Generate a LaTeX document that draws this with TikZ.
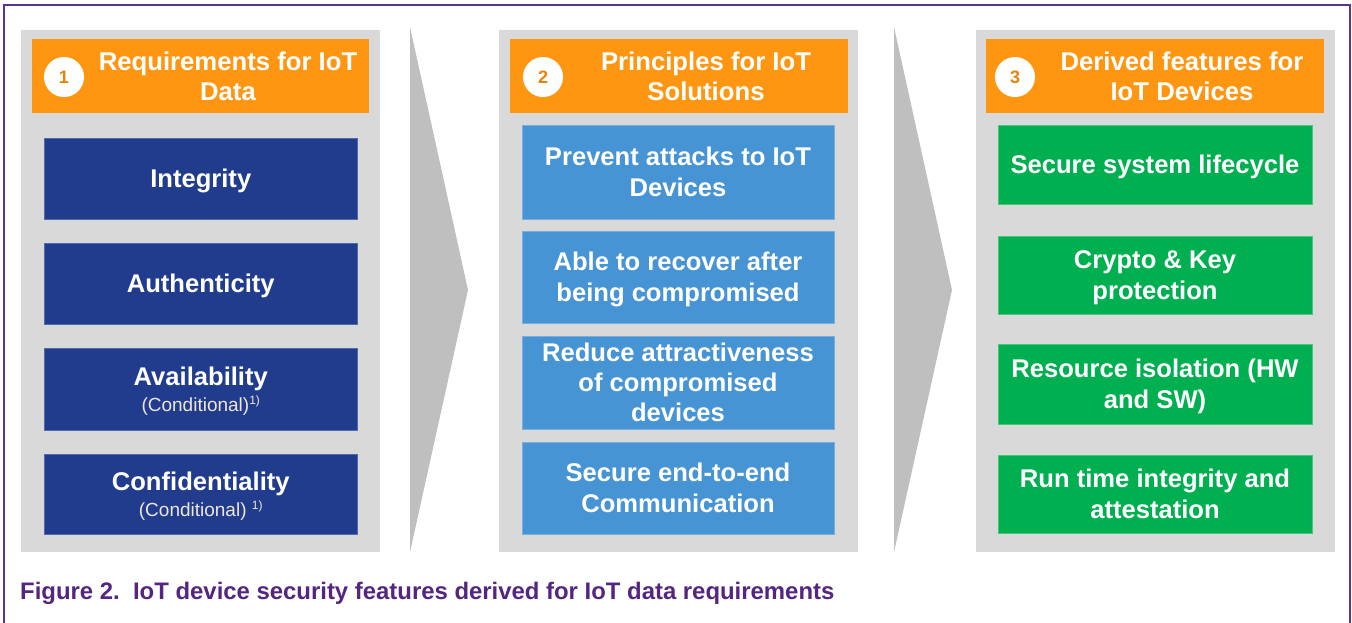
\documentclass[tikz,border=0pt]{standalone}
\usepackage{fontspec}
\setmainfont{Liberation Sans}
\definecolor{hdrorange}{RGB}{255,150,18}
\definecolor{numorange}{RGB}{232,130,10}
\definecolor{darkblue}{RGB}{33,60,140}
\definecolor{darkblueedge}{RGB}{80,105,175}
\definecolor{lightblue}{RGB}{71,148,212}
\definecolor{lightblueedge}{RGB}{120,175,225}
\definecolor{featgreen}{RGB}{0,175,80}
\definecolor{featgreenedge}{RGB}{70,200,120}
\definecolor{panelgray}{RGB}{217,217,217}
\definecolor{arrowgray}{RGB}{191,191,191}
\definecolor{framepurple}{RGB}{95,50,140}
\definecolor{captionpurple}{RGB}{84,38,128}
\definecolor{condtext}{RGB}{238,230,220}
\newcommand{\condline}[1]{{\mdseries\fontsize{19}{22}\selectfont\color{condtext}#1}}
\newcommand{\supone}{\raisebox{7pt}{\fontsize{12}{12}\selectfont 1)}}
\begin{document}
\begin{tikzpicture}[x={(1pt,0pt)}, y={(0pt,-1pt)},
  panel/.style={rectangle, inner sep=0pt, fill=panelgray, minimum width=359pt, minimum height=522pt},
  header/.style={rectangle, inner sep=0pt, fill=hdrorange, minimum width=338pt, minimum height=74pt},
  headtext/.style={inner sep=0pt, align=center, text=white, font=\bfseries\fontsize{25.7}{30}\selectfont},
  numcircle/.style={circle, fill=white, inner sep=0pt, minimum size=40pt, text=numorange, font=\bfseries\fontsize{18}{18}\selectfont},
  itembox/.style={rectangle, inner sep=0pt, align=center, text=white, text depth=0pt, line width=1pt, font=\bfseries\fontsize{25.6}{31}\selectfont},
  reqbox/.style={itembox, fill=darkblue, draw=darkblueedge, minimum width=313pt},
  prinbox/.style={itembox, fill=lightblue, draw=lightblueedge, minimum width=312pt},
  featbox/.style={itembox, fill=featgreen, draw=featgreenedge, minimum width=314pt},
  chevron/.style={fill=arrowgray, draw=none},
  frameline/.style={draw=framepurple, line width=2.5pt}
]
\useasboundingbox (0,0) rectangle (1352,622);
\fill[white] (0,0) rectangle (1352,622);
\draw[frameline] (4,640) -- (4,5) -- (1350,5) -- (1350,640);

% panels
\node[panel] (p1) at (200.5,291) {};
\node[panel] (p2) at (678.5,291) {};
\node[panel] (p3) at (1155.5,291) {};

% chevrons
\coordinate (c1a) at (410,27);
\coordinate (c1b) at (468,290);
\coordinate (c1c) at (410,552);
\fill[chevron] (c1a) -- (c1b) -- (c1c) -- cycle;
\coordinate (c2a) at (894,27);
\coordinate (c2b) at (952,290);
\coordinate (c2c) at (894,552);
\fill[chevron] (c2a) -- (c2b) -- (c2c) -- cycle;

% headers
\node[header, minimum width=337pt] (h1) at (200.5,76) {};
\node[header] (h2) at (679,76) {};
\node[header] (h3) at (1155,76) {};
\node[numcircle] (n1) at (64,77) {1};
\node[numcircle] (n2) at (543,77) {2};
\node[numcircle] (n3) at (1015,77) {3};
\node[headtext] (t1) at (228,76) {Requirements for IoT\\Data};
\node[headtext] (t2) at (706,76) {Principles for IoT\\Solutions};
\node[headtext] (t3) at (1182,76) {Derived features for\\IoT Devices};

% requirements
\node[reqbox, minimum height=81pt] (r1) at (200.75,178.5) {Integrity};
\node[reqbox, minimum height=81pt] (r2) at (200.75,283.5) {Authenticity};
\node[reqbox, minimum height=82pt] (r3) at (200.75,389) {Availability\\[-5pt]\condline{(Conditional)\supone}};
\node[reqbox, minimum height=80pt] (r4) at (200.75,494) {Confidentiality\\[-5pt]\condline{(Conditional) \supone}};

% principles
\node[prinbox, minimum height=94pt] (q1) at (678,172) {Prevent attacks to IoT\\Devices};
\node[prinbox, minimum height=92pt] (q2) at (678,277) {Able to recover after\\being compromised};
\node[prinbox, minimum height=93pt, font=\bfseries\fontsize{25.6}{30}\selectfont] (q3) at (678,382.5) {Reduce attractiveness\\of compromised\\devices};
\node[prinbox, minimum height=92pt] (q4) at (678,488) {Secure end-to-end\\Communication};

% features
\node[featbox, minimum height=79pt] (f1) at (1155,164.5) {Secure system lifecycle};
\node[featbox, minimum height=78pt] (f2) at (1155,275) {Crypto \& Key\\protection};
\node[featbox, minimum height=80pt] (f3) at (1155,384) {Resource isolation (HW\\and SW)};
\node[featbox, minimum height=78pt] (f4) at (1155,494) {Run time integrity and\\attestation};

% caption
\node[anchor=base west, inner sep=0pt, text=captionpurple, font=\bfseries\fontsize{23.9}{28}\selectfont] (cap) at (20,599) {Figure 2.\ \ IoT device security features derived for IoT data requirements};
\end{tikzpicture}
\end{document}
